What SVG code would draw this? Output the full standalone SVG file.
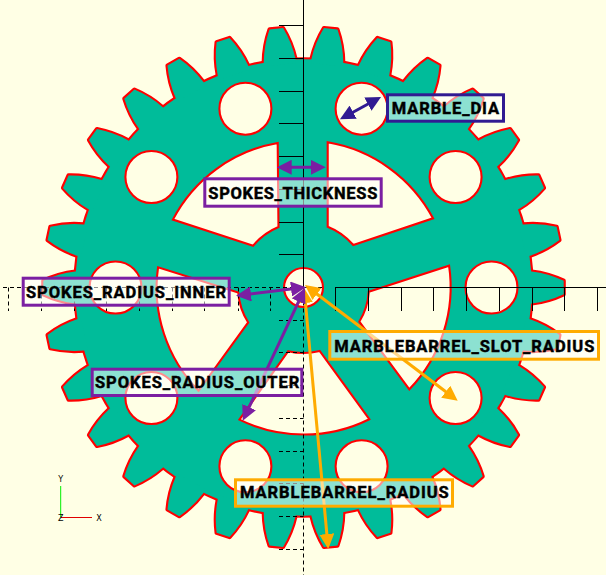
<svg xmlns="http://www.w3.org/2000/svg" width="606" height="575" viewBox="0 0 606 575">
<style>
.cut{fill:#ffffe5;stroke:#ff0000;stroke-width:2.1}
.ax{stroke:#000;stroke-width:1;fill:none}
.dash{stroke-dasharray:4 3}
.arr{fill:none;stroke-width:3}
.box{fill:#fff;fill-opacity:.55;stroke-width:3}
.lbl{font-family:"Roboto","Liberation Sans",sans-serif;font-weight:700;font-size:16.5px;fill:#000;stroke:#000;stroke-width:.45}
.gz{font-family:"DejaVu Sans",sans-serif;font-size:8px;fill:#000;text-anchor:middle}
</style>
<defs>
<path id="tooth" d="M-16,-224 L-16,-228.2 Q-14,-245 -6.8,-260.2 L6.8,-260.2 Q14,-245 16,-228.2 L16,-224 Z"/>
<g id="gearshape">
<circle r="228.2"/>
<use href="#tooth" transform="rotate(6)"/><use href="#tooth" transform="rotate(18)"/><use href="#tooth" transform="rotate(30)"/><use href="#tooth" transform="rotate(42)"/><use href="#tooth" transform="rotate(54)"/><use href="#tooth" transform="rotate(66)"/><use href="#tooth" transform="rotate(78)"/><use href="#tooth" transform="rotate(90)"/><use href="#tooth" transform="rotate(102)"/><use href="#tooth" transform="rotate(114)"/><use href="#tooth" transform="rotate(126)"/><use href="#tooth" transform="rotate(138)"/><use href="#tooth" transform="rotate(150)"/><use href="#tooth" transform="rotate(162)"/><use href="#tooth" transform="rotate(174)"/><use href="#tooth" transform="rotate(186)"/><use href="#tooth" transform="rotate(198)"/><use href="#tooth" transform="rotate(210)"/><use href="#tooth" transform="rotate(222)"/><use href="#tooth" transform="rotate(234)"/><use href="#tooth" transform="rotate(246)"/><use href="#tooth" transform="rotate(258)"/><use href="#tooth" transform="rotate(270)"/><use href="#tooth" transform="rotate(282)"/><use href="#tooth" transform="rotate(294)"/><use href="#tooth" transform="rotate(306)"/><use href="#tooth" transform="rotate(318)"/><use href="#tooth" transform="rotate(330)"/><use href="#tooth" transform="rotate(342)"/><use href="#tooth" transform="rotate(354)"/>
</g>
<path id="win" d="M24.2,-145.2 A147,147 0 0 1 129.5,-69.2 L49.8,-42.5 A65.5,65.5 0 0 0 24.2,-60.8 Z"/>
<marker id="hp" markerUnits="userSpaceOnUse" markerWidth="15" markerHeight="15" viewBox="0 0 15 15" refX="8" refY="7.5" orient="auto-start-reverse"><path d="M0,0 L15,7.5 L0,15 Z" fill="#7b1fa2"/></marker>
<marker id="hb" markerUnits="userSpaceOnUse" markerWidth="15" markerHeight="15" viewBox="0 0 15 15" refX="8" refY="7.5" orient="auto-start-reverse"><path d="M0,0 L15,7.5 L0,15 Z" fill="#311b92"/></marker>
<marker id="ho" markerUnits="userSpaceOnUse" markerWidth="15" markerHeight="15" viewBox="0 0 15 15" refX="8" refY="7.5" orient="auto-start-reverse"><path d="M0,0 L15,7.5 L0,15 Z" fill="#ffab00"/></marker>
</defs>
<rect width="606" height="575" fill="#ffffe5"/>
<g id="gear" transform="translate(303.5,287.5)">
<use href="#gearshape" fill="#ff0000" stroke="#ff0000" stroke-width="4.2" stroke-linejoin="round"/>
<use href="#gearshape" fill="#00bc9a"/>
<use href="#win" class="cut"/>
<use href="#win" class="cut" transform="rotate(72)"/>
<use href="#win" class="cut" transform="rotate(144)"/>
<use href="#win" class="cut" transform="rotate(216)"/>
<use href="#win" class="cut" transform="rotate(288)"/>
<circle class="cut" cx="58.1" cy="-178.8" r="26"/>
<circle class="cut" cx="152.1" cy="-110.5" r="26"/>
<circle class="cut" cx="188" cy="0" r="26"/>
<circle class="cut" cx="152.1" cy="110.5" r="26"/>
<circle class="cut" cx="58.1" cy="178.8" r="26"/>
<circle class="cut" cx="-58.1" cy="178.8" r="26"/>
<circle class="cut" cx="-152.1" cy="110.5" r="26"/>
<circle class="cut" cx="-188" cy="0" r="26"/>
<circle class="cut" cx="-152.1" cy="-110.5" r="26"/>
<circle class="cut" cx="-58.1" cy="-178.8" r="26"/>
<circle class="cut" r="19.5"/>
</g>
<g id="axes">
<path class="ax" d="M303.5,0V287.5M335,287.5H606M279,25.5H303.5M279,58.5H303.5M279,91.5H303.5M279,123.5H303.5M279,156.5H303.5M279,189.5H303.5M279,222.5H303.5M279,254.5H303.5M335.5,287.5V311M368.5,287.5V311M401.5,287.5V311M433.5,287.5V311M466.5,287.5V311M499.5,287.5V311M532.5,287.5V311M564.5,287.5V311M597.5,287.5V311"/>
<path class="ax dash" d="M303.5,287.5V575M322,287.5H3M279,320.5H303.5M279,352.5H303.5M279,385.5H303.5M279,418.5H303.5M279,451.5H303.5M279,483.5H303.5M279,516.5H303.5M279,549.5H303.5M8.5,287.5V311M41.5,287.5V311M74.5,287.5V311M106.5,287.5V311M139.5,287.5V311M172.5,287.5V311M204.5,287.5V311M238.5,287.5V311M270.5,287.5V311"/>
<path d="M60.7,517.3V486" stroke="#00ee00" stroke-width="1" fill="none"/>
<path d="M60.7,517.5H92" stroke="#e00000" stroke-width="1" fill="none"/>
<text class="gz" x="60.7" y="482">Y</text>
<text class="gz" x="99" y="521">X</text>
<text class="gz" x="60.7" y="520.5">Z</text>
</g>
<g id="connectors">
<line class="arr" x1="304.7" y1="295" x2="327.6" y2="542" stroke="#ffab00" marker-start="url(#ho)" marker-end="url(#ho)"/>
<line class="arr" x1="243" y1="294.9" x2="299" y2="288.1" stroke="#7b1fa2" marker-start="url(#hp)" marker-end="url(#hp)"/>
<line class="arr" x1="302" y1="294.3" x2="245.7" y2="414.4" stroke="#7b1fa2" marker-start="url(#hp)" marker-end="url(#hp)"/>
<line class="arr" x1="310.6" y1="289.2" x2="452.1" y2="396.5" stroke="#ffab00" marker-start="url(#ho)" marker-end="url(#ho)"/>
<line class="arr" x1="283.7" y1="167.3" x2="318.7" y2="167.3" stroke="#7b1fa2" marker-start="url(#hp)" marker-end="url(#hp)"/>
<line class="arr" x1="346.1" y1="116" x2="374.9" y2="100.3" stroke="#311b92" marker-start="url(#hb)" marker-end="url(#hb)"/>
</g>
<g id="label-marble-dia"><rect class="box" stroke="#311b92" x="387.5" y="94.8" width="116" height="26.4"/><text class="lbl" x="391.7" y="114" textLength="107.3" lengthAdjust="spacing">MARBLE_DIA</text></g>
<g id="label-spokes-thickness"><rect class="box" stroke="#7b1fa2" x="204.8" y="178.8" width="176.4" height="27.4"/><text class="lbl" x="208.3" y="199" textLength="169" lengthAdjust="spacing">SPOKES_THICKNESS</text></g>
<g id="label-spokes-radius-inner"><rect class="box" stroke="#7b1fa2" x="23.2" y="278.2" width="206" height="27"/><text class="lbl" x="26" y="298.3" textLength="200" lengthAdjust="spacing">SPOKES_RADIUS_INNER</text></g>
<g id="label-spokes-radius-outer"><rect class="box" stroke="#7b1fa2" x="92.2" y="369.2" width="209.6" height="26.3"/><text class="lbl" x="95" y="388.3" textLength="204.3" lengthAdjust="spacing">SPOKES_RADIUS_OUTER</text></g>
<g id="label-marblebarrel-slot-radius"><rect class="box" stroke="#ffab00" x="329.8" y="331.5" width="268.7" height="27.7"/><text class="lbl" x="334.3" y="351.7" textLength="260" lengthAdjust="spacing">MARBLEBARREL_SLOT_RADIUS</text></g>
<g id="label-marblebarrel-radius"><rect class="box" stroke="#ffab00" x="235.5" y="479.8" width="217" height="26.4"/><text class="lbl" x="240" y="498.3" textLength="208.7" lengthAdjust="spacing">MARBLEBARREL_RADIUS</text></g>
</svg>
